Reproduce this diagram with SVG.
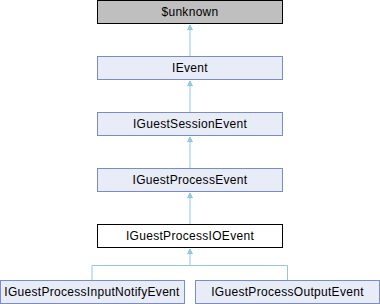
<svg xmlns="http://www.w3.org/2000/svg" width="380" height="304" viewBox="0 0 380 304">
<defs>
<style>
.n rect{fill:#E8ECF6;stroke:#7B8CC6;stroke-width:1}
.top rect{fill:#BFBFBF;stroke:#000}
.cur rect{fill:#FFFFFF;stroke:#000}
text{font-family:"Liberation Sans",Arial,sans-serif;font-size:12px;letter-spacing:0.3px;fill:#000;text-anchor:middle}
.e{stroke:#93C6E6;stroke-width:1;fill:none}
</style>
<marker id="ah" markerUnits="userSpaceOnUse" markerWidth="8" markerHeight="8" refX="5" refY="4" orient="auto-start-reverse" viewBox="0 0 8 8">
<path d="M0,1.5 L5,4 L0,6.5 Z" fill="#93C6E6" stroke="#93C6E6" stroke-width="1"/>
</marker>
</defs>
<g id="connectors">
<path class="e" d="M190,25 V56" marker-start="url(#ah)"/>
<path class="e" d="M190,81 V112" marker-start="url(#ah)"/>
<path class="e" d="M190,137 V168" marker-start="url(#ah)"/>
<path class="e" d="M190,193 V224" marker-start="url(#ah)"/>
<path class="e" d="M190,249 V265.5 M92,280 V265.5 H287.5 V280" marker-start="url(#ah)"/>
</g>
<g id="unknown" class="top"><rect x="97.5" y="0.5" width="185" height="23"/><text x="190" y="16">$unknown</text></g>
<g id="IEvent" class="n"><rect x="97.5" y="56.5" width="185" height="23"/><text x="190" y="72">IEvent</text></g>
<g id="IGuestSessionEvent" class="n"><rect x="97.5" y="112.5" width="185" height="23"/><text x="190" y="128">IGuestSessionEvent</text></g>
<g id="IGuestProcessEvent" class="n"><rect x="97.5" y="168.5" width="185" height="23"/><text x="190" y="184">IGuestProcessEvent</text></g>
<g id="IGuestProcessIOEvent" class="cur"><rect x="97.5" y="224.5" width="185" height="23"/><text x="190" y="240">IGuestProcessIOEvent</text></g>
<g id="IGuestProcessInputNotifyEvent" class="n"><rect x="0.5" y="280.5" width="184" height="23"/><text x="92" y="296">IGuestProcessInputNotifyEvent</text></g>
<g id="IGuestProcessOutputEvent" class="n"><rect x="195.5" y="280.5" width="184" height="23"/><text x="287.5" y="296">IGuestProcessOutputEvent</text></g>
</svg>
